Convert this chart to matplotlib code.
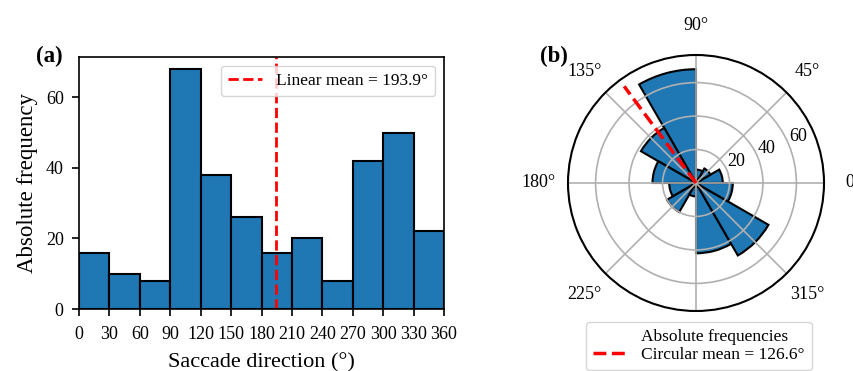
import numpy as np
import matplotlib
matplotlib.use("Agg")
import matplotlib.pyplot as plt
from matplotlib.lines import Line2D

# ---- data ----
bin_edges = [0, 30, 60, 90, 120, 150, 180, 210, 240, 270, 300, 330, 360]
counts = [16, 10, 8, 68, 38, 26, 16, 20, 8, 42, 50, 22]
linear_mean = 193.9
circular_mean = 126.6
circ_line_len = 72
xticks = [0, 30, 60, 90, 120, 150, 180, 210, 240, 270, 300, 330, 360]
yticks = [0, 20, 40, 60]
rticks = [20, 40, 60]
theta_ticks = [0, 45, 90, 135, 180, 225, 270, 315]
theta_labels = ["0°", "45°", "90°", "135°", "180°", "225°", "", "315°"]

plt.rcParams['font.family'] = ['Liberation Serif', 'DejaVu Serif']
plt.rcParams['mathtext.fontset'] = 'dejavuserif'

W, H = 854, 371
fig = plt.figure(figsize=(W / 100, H / 100), dpi=100)

def box(x0, y0, x1, y1):
    return [x0 / W, 1 - y1 / H, (x1 - x0) / W, (y1 - y0) / H]

blue = "#1f77b4"

# ---- (a) histogram ----
ax = fig.add_axes(box(79, 57, 444, 309))
edges = np.array(bin_edges)
ax.bar(edges[:-1], counts, width=np.diff(edges), align='edge',
       color=blue, edgecolor='black', linewidth=1.5)
ax.axvline(linear_mean, color='red', linestyle='--', linewidth=2,
           label=f"Linear mean = {linear_mean}°")
ax.set_xlim(0, 360)
ax.set_ylim(0, max(counts) * 1.05)
ax.set_xticks(xticks)
ax.set_yticks(yticks)
ax.tick_params(labelsize=13, width=1.2, length=5)
ax.tick_params(axis='x', pad=7.5)
ax.tick_params(axis='y', pad=6)
for s in ax.spines.values():
    s.set_linewidth(1.2)
ax.set_xlabel("Saccade direction (°)", fontsize=16, labelpad=7)
ax.set_ylabel("Absolute frequency", fontsize=16.5, labelpad=6)
ax.legend(loc='upper right', fontsize=12.5, handlelength=2.0)
fig.text(49 / W, 1 - 56 / H, "(a)", fontsize=16.5, fontweight='bold',
         ha='center', va='center')

# ---- (b) polar ----
pax = fig.add_axes(box(568, 55, 824, 311), projection='polar')
centers = np.deg2rad((edges[:-1] + edges[1:]) / 2)
pax.bar(centers, counts, width=np.deg2rad(np.diff(edges)), bottom=0,
        color=blue, edgecolor='black', linewidth=1.5)
pax.plot([np.deg2rad(circular_mean)] * 2, [0, circ_line_len], color='red',
         linestyle='--', linewidth=2.5)
pax.set_ylim(0, 76.5)
pax.set_rticks(rticks)
pax.set_thetagrids(theta_ticks, theta_labels)
pax.tick_params(axis='x', labelsize=13, pad=11)
pax.tick_params(axis='y', labelsize=13)
pax.grid(True, color='#b0b0b0', linewidth=1.2)
pax.spines['polar'].set_linewidth(1.5)
handles = [Line2D([], [], color='none'),
           Line2D([], [], color='red', linestyle='--', linewidth=2.5)]
pax.legend(handles, ["Absolute frequencies", f"Circular mean = {circular_mean}°"],
           loc='upper center', bbox_to_anchor=(0.51, -0.01), fontsize=12.5,
           handlelength=2.0, borderpad=0.4, labelspacing=0.1)
fig.text(554 / W, 1 - 56 / H, "(b)", fontsize=16.5, fontweight='bold',
         ha='center', va='center')

fig.savefig("out.png", dpi=100)
